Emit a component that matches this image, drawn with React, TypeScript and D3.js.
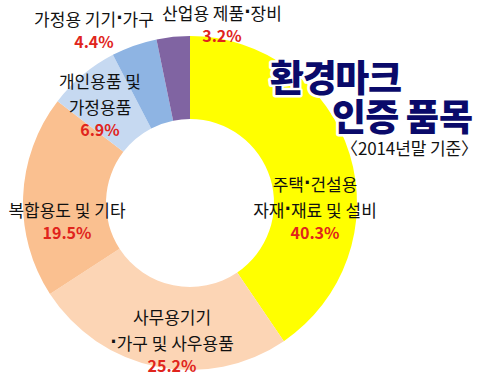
import React from "react";
import * as d3 from "d3";

const categories = ["주택·건설용 자재·재료 및 설비", "사무용기기·가구 및 사우용품", "복합용도 및 기타", "개인용품 및 가정용품", "가정용 기기·가구", "산업용 제품·장비"];
const values = [40.3, 25.2, 19.5, 6.9, 4.4, 3.2];
const colors = ["#FFFF00", "#FCD5B5", "#FAC090", "#C6D9F1", "#8EB4E3", "#8064A2"];
const labelLines = [
  ["주택·건설용", "자재·재료 및 설비"],
  ["사무용기기", "·가구 및 사우용품"],
  ["복합용도 및 기타"],
  ["개인용품 및", "가정용품"],
  ["가정용 기기·가구"],
  ["산업용 제품·장비"],
];
const labelPos = [
  [315, 183],
  [172, 316],
  [67, 209],
  [100, 80],
  [94, 18],
  [222, 12],
];
const titleLines = ["환경마크", "인증 품목"];
const subtitle = "〈2014년말 기준〉";

const W = 487, H = 380;
const cx = 190, cy = 203, R = 167, r = 84;
const font = "'Noto Sans CJK KR', 'Noto Sans', sans-serif";

function withDots(t: string) {
  const parts = t.split("·");
  const out: React.ReactNode[] = [];
  parts.forEach((p, k) => {
    if (k > 0) out.push(<tspan key={"d" + k} fontFamily="'DejaVu Sans', sans-serif" fontWeight="bold">·</tspan>);
    if (p) out.push(<tspan key={"p" + k}>{p}</tspan>);
  });
  return out;
}

export default function App() {
  const pie = d3.pie<number>().sort(null).value((d) => d)(values);
  const arc = d3.arc<d3.PieArcDatum<number>>().innerRadius(r).outerRadius(R);
  return (
    <svg width={W} height={H} style={{ position: "absolute", left: 0, top: 0, background: "#fff" }}>
      <g transform={`translate(${cx},${cy})`}>
        {pie.map((p, i) => (
          <path key={i} d={arc(p) || ""} fill={colors[i]} />
        ))}
      </g>
      {labelLines.map((lines, i) => {
        const [x, y] = labelPos[i];
        const lh = 26;
        return (
          <g key={i} fontFamily={font} textAnchor="middle">
            {lines.map((t, j) => (
              <text key={j} x={x} y={y + j * lh} dominantBaseline="central" fontSize={17} fill="#111">{withDots(t)}</text>
            ))}
            <text x={x} y={y + (lines.length - 1) * lh + 23} dominantBaseline="central" fontSize={16} fontWeight="bold" fill="#E0241C">
              {values[i].toFixed(1)}%
            </text>
          </g>
        );
      })}
      <g fontFamily={font} fontWeight="900" fill="#0A0A6A" stroke="#fff" strokeWidth={5} paintOrder="stroke" strokeLinejoin="round">
        <text x={270} y={92} fontSize={37} textLength={132}>{titleLines[0]}</text>
        <text x={332} y={131} fontSize={37} textLength={141}>{titleLines[1]}</text>
      </g>
      <text x={341} y={155} fontFamily={font} fontSize={17} fill="#111" textLength={137}>{subtitle}</text>
    </svg>
  );
}
